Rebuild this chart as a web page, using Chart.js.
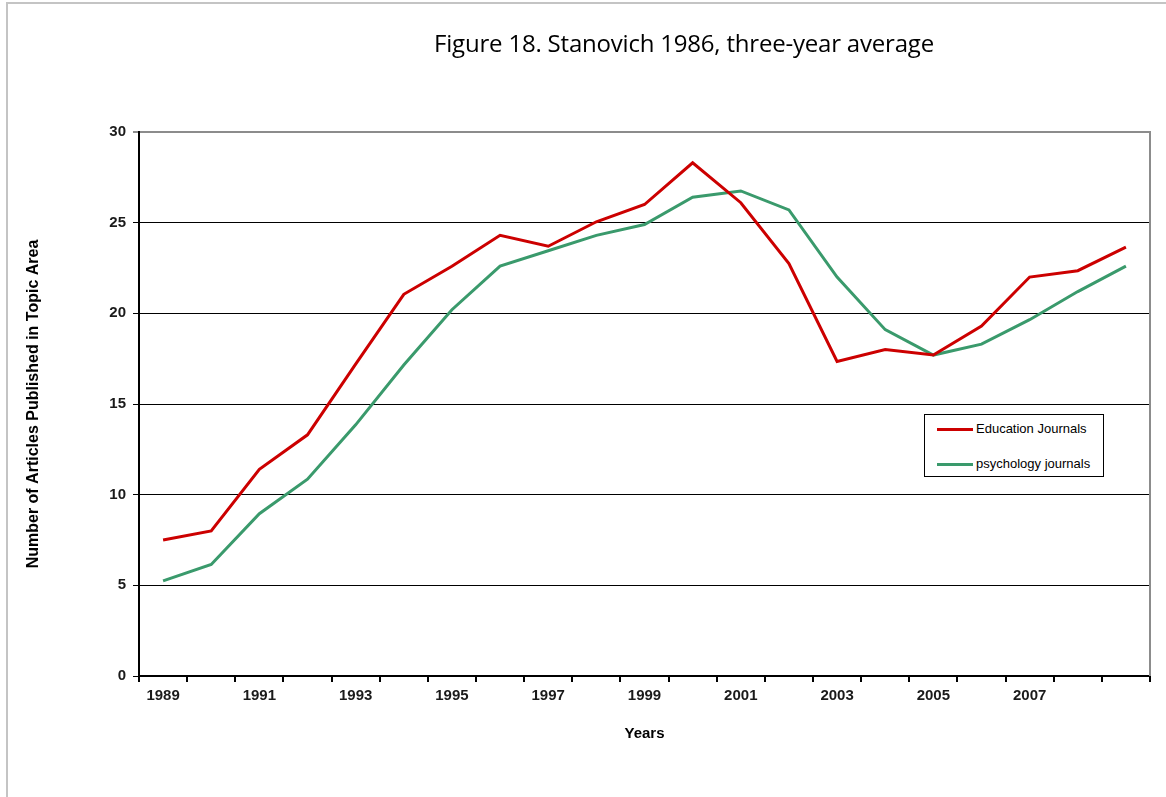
<!DOCTYPE html>
<html>
<head>
<meta charset="utf-8">
<title>Figure 18. Stanovich 1986, three-year average</title>
<script src="https://cdn.jsdelivr.net/npm/chart.js@4.4.1/dist/chart.umd.min.js"></script>
<style>
    body { margin: 0; background: #ffffff; }
    #wrap { position: relative; width: 1166px; height: 797px; overflow: hidden; }
    #frame { position: absolute; left: 6px; top: 2px; width: 1200px; height: 900px;
             border-left: 2px solid #c4c4c4; border-top: 2px solid #c4c4c4; }
    #titolo { position: absolute; left: 334px; width: 700px; top: 26px; text-align: center;
              font-family: 'Open Sans', sans-serif; font-size: 24px; color: #000; letter-spacing: -0.2px; }
    #legenda { position: absolute; left: 924px; top: 414px; width: 178px; height: 61px;
               border: 1px solid #000; background: #fff; font-family: 'Liberation Sans', Arial, sans-serif;
               font-size: 13px; color: #000; }
    .voce { position: absolute; left: 12px; height: 16px; line-height: 16px; }
    .linea { display: inline-block; width: 36px; height: 3px; vertical-align: middle; margin-right: 3px; }
    canvas { position: absolute; left: 0; top: 0; }
</style>
</head>
<body>
<div id="wrap">
    <div id="frame"></div>
    <canvas id="grafico" width="1166" height="797"></canvas>
    <div id="titolo">Figure 18. Stanovich 1986, three-year average</div>
    <div id="legenda"></div>
</div>
<script>
// Dati
const anni = ['1989', '1990', '1991', '1992', '1993', '1994', '1995', '1996', '1997', '1998', '1999',
              '2000', '2001', '2002', '2003', '2004', '2005', '2006', '2007', '2008', '2009'];
const etichetteAnni = ['1989', '', '1991', '', '1993', '', '1995', '', '1997', '', '1999',
                       '', '2001', '', '2003', '', '2005', '', '2007', '', ''];
const educationJournals = [7.5, 8.0, 11.4, 13.3, 17.2, 21.05, 22.6, 24.3, 23.7, 25.05, 26.0,
                           28.3, 26.1, 22.75, 17.35, 18.0, 17.7, 19.3, 22.0, 22.35, 23.65];
const psychologyJournals = [5.25, 6.15, 8.95, 10.85, 13.85, 17.15, 20.2, 22.6, 23.45, 24.3, 24.9,
                            26.4, 26.75, 25.7, 22.0, 19.1, 17.7, 18.3, 19.65, 21.2, 22.6];
const tickY = [0, 5, 10, 15, 20, 25, 30];

const fontAssi = "'Liberation Sans', Arial, sans-serif";

// bordo destro grigio dell'area del grafico
const bordoDestro = {
    id: 'bordoDestro',
    afterDraw(chart) {
        const a = chart.chartArea;
        const ctx = chart.ctx;
        ctx.save();
        ctx.strokeStyle = '#8c8c8c';
        ctx.lineWidth = 2;
        ctx.beginPath();
        ctx.moveTo(a.right, a.top - 1);
        ctx.lineTo(a.right, a.bottom);
        ctx.stroke();
        ctx.restore();
    }
};

const ctx = document.getElementById('grafico').getContext('2d');
const mioGrafico = new Chart(ctx, {
    type: 'line',
    data: {
        labels: anni,
        datasets: [{
            label: 'Education Journals',
            data: educationJournals,
            borderColor: '#cc0000',
            borderWidth: 3,
            pointRadius: 0,
            tension: 0
        }, {
            label: 'psychology journals',
            data: psychologyJournals,
            borderColor: '#3a9a6c',
            borderWidth: 3,
            pointRadius: 0,
            tension: 0
        }]
    },
    plugins: [bordoDestro],
    options: {
        responsive: false,
        animation: false,
        layout: { padding: { top: 132, right: 16, left: 0, bottom: 0 } },
        plugins: {
            legend: { display: false },
            title: { display: false },
            tooltip: { enabled: false }
        },
        scales: {
            x: {
                offset: true,
                afterFit: function(scale) { scale.height = 121; },
                grid: {
                    offset: true,
                    drawOnChartArea: false,
                    tickLength: 6,
                    color: '#000000',
                    lineWidth: 2
                },
                border: { color: '#000000', width: 2 },
                ticks: {
                    autoSkip: false,
                    maxRotation: 0,
                    padding: 5,
                    color: '#1a1a1a',
                    font: { family: fontAssi, size: 15, weight: 'bold' },
                    callback: function(value, index) { return etichetteAnni[index]; }
                },
                title: {
                    display: true,
                    text: 'Years',
                    color: '#000000',
                    font: { family: fontAssi, size: 15, weight: 'bold' },
                    padding: { top: 0, bottom: 54 }
                }
            },
            y: {
                min: 0,
                max: 30,
                afterFit: function(scale) { scale.width = 139; },
                afterBuildTicks: function(scale) { scale.ticks = tickY.map(v => ({ value: v })); },
                grid: {
                    tickLength: 6,
                    color: function(c) { return c.tick && c.tick.value === 30 ? '#8c8c8c' : '#000000'; },
                    lineWidth: function(c) { return c.tick && c.tick.value === 30 ? 2 : 1; }
                },
                border: { color: '#000000', width: 2 },
                ticks: {
                    padding: 7,
                    color: '#1a1a1a',
                    font: { family: fontAssi, size: 15, weight: 'bold' }
                },
                title: {
                    display: true,
                    text: 'Number of Articles Published in Topic Area',
                    color: '#000000',
                    font: { family: fontAssi, size: 16, weight: 'bold' },
                    padding: { top: 24, bottom: 0 }
                }
            }
        }
    }
});

// Legenda HTML dentro l'area del grafico
const legenda = document.getElementById('legenda');
legenda.innerHTML = mioGrafico.data.datasets.map((ds, i) => `
    <div class="voce" style="top:${6 + i * 35}px">
        <span class="linea" style="background:${ds.borderColor}"></span>${ds.label}
    </div>
`).join('');
</script>
</body>
</html>
